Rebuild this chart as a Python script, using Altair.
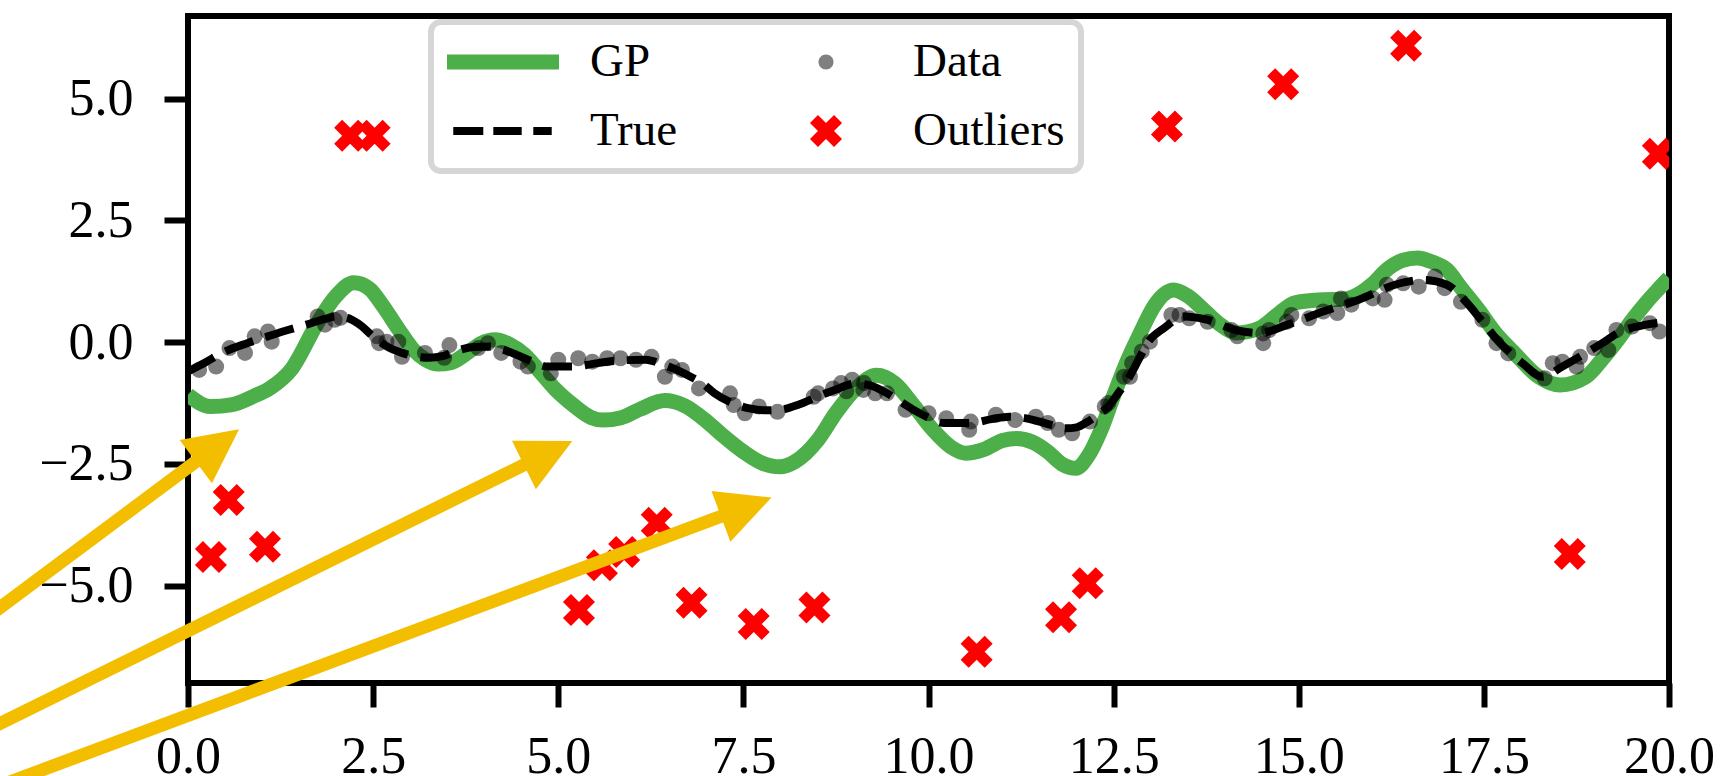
import math
import altair as alt
import pandas as pd

# ---------------- data ----------------
gp_x = [0.0, 0.3, 0.6, 0.9, 1.1, 1.4, 1.75, 2.0, 2.24, 2.45, 2.63, 2.85, 3.04, 3.2, 3.38, 3.55, 3.77, 3.95,
        4.15, 4.35, 4.54, 4.75, 4.95, 5.21, 5.45, 5.6, 5.85, 6.1, 6.44, 6.7, 7.0, 7.21, 7.5, 7.75, 7.99, 8.2,
        8.51, 8.75, 9.02, 9.3, 9.55, 9.8, 10.06, 10.3, 10.5, 10.75, 11.0, 11.19, 11.4, 11.61, 11.8, 11.99,
        12.15, 12.33, 12.5, 12.68, 12.86, 13.05, 13.31, 13.5, 13.72, 13.95, 14.15, 14.47, 14.7, 14.95, 15.33,
        15.6, 15.8, 16.0, 16.19, 16.4, 16.6, 16.8, 17.0, 17.2, 17.43, 17.65, 17.91, 18.24, 18.53, 18.88, 19.1,
        19.31, 19.5, 19.69, 19.85, 20.0]
gp_y = [-1.08, -1.32, -1.28, -1.1, -0.95, -0.55, 0.4, 0.95, 1.22, 1.1, 0.75, 0.25, -0.15, -0.35, -0.45, -0.42,
        -0.22, -0.03, 0.05, -0.05, -0.25, -0.6, -0.95, -1.3, -1.55, -1.6, -1.55, -1.38, -1.2, -1.3, -1.62, -1.9,
        -2.25, -2.48, -2.56, -2.45, -2.0, -1.45, -0.95, -0.68, -0.85, -1.3, -1.8, -2.15, -2.28, -2.2, -2.02,
        -1.98, -2.05, -2.25, -2.5, -2.59, -2.35, -1.8, -1.1, -0.4, 0.19, 0.75, 1.07, 0.95, 0.66, 0.35, 0.19,
        0.29, 0.55, 0.81, 0.87, 0.88, 0.98, 1.2, 1.49, 1.68, 1.73, 1.65, 1.49, 1.1, 0.66, 0.2, -0.22, -0.71,
        -0.88, -0.71, -0.35, 0.05, 0.45, 0.81, 1.08, 1.32]

true_x = [0.0, 0.25, 0.46, 0.8, 1.08, 1.35, 1.6, 1.85, 2.01, 2.15, 2.3, 2.53, 2.7, 2.89, 3.25, 3.45, 3.66, 3.85,
          4.08, 4.25, 4.44, 4.65, 4.85, 5.21, 5.45, 5.66, 5.9, 6.18, 6.4, 6.6, 6.8, 6.96, 7.11, 7.35, 7.58, 7.8,
          7.99, 8.25, 8.5, 8.75, 9.02, 9.2, 9.44, 9.62, 9.8, 10.0, 10.21, 10.57, 10.85, 11.09, 11.3, 11.5, 11.7,
          11.86, 12.0, 12.12, 12.28, 12.43, 12.56, 12.69, 12.83, 12.96, 13.18, 13.45, 13.77, 14.15, 14.47,
          14.85, 15.33, 15.81, 16.3, 16.68, 17.0, 17.27, 17.45, 17.64, 18.02, 18.29, 18.56, 18.88, 19.1, 19.31,
          19.69, 20.0]
true_y = [-0.6, -0.4, -0.22, -0.02, 0.12, 0.25, 0.36, 0.48, 0.53, 0.5, 0.38, 0.08, -0.1, -0.22, -0.32, -0.28,
          -0.16, -0.1, -0.09, -0.15, -0.26, -0.4, -0.5, -0.5, -0.45, -0.4, -0.37, -0.36, -0.45, -0.57, -0.72,
          -0.86, -1.05, -1.25, -1.36, -1.4, -1.39, -1.28, -1.12, -0.97, -0.85, -0.88, -1.05, -1.22, -1.39, -1.55,
          -1.66, -1.66, -1.58, -1.53, -1.56, -1.63, -1.72, -1.77, -1.75, -1.66, -1.5, -1.32, -1.05, -0.77, -0.38,
          -0.01, 0.29, 0.53, 0.46, 0.25, 0.19, 0.36, 0.63, 0.87, 1.18, 1.28, 1.18, 0.81, 0.48, 0.12, -0.43, -0.71,
          -0.5, -0.22, -0.02, 0.19, 0.36, 0.42]

obs_x = [0.15, 0.38, 0.56, 0.77, 0.9, 1.08, 1.13, 1.75, 1.85, 1.98, 2.06, 2.55, 2.58, 2.68, 2.84, 2.89, 3.2,
         3.46, 3.53, 3.92, 4.05, 4.23, 4.49, 4.59, 4.9, 5.0, 5.27, 5.46, 5.66, 5.84, 6.05, 6.26, 6.44, 6.54,
         6.67, 6.9, 7.32, 7.37, 7.52, 7.71, 7.96, 8.45, 8.51, 8.71, 8.82, 8.89, 8.97, 9.12, 9.13, 9.28, 9.44,
         9.69, 10.0, 10.24, 10.55, 10.57, 10.91, 11.17, 11.45, 11.61, 11.76, 11.94, 12.18, 12.38, 12.43, 12.64,
         12.72, 12.75, 12.88, 12.99, 13.28, 13.39, 13.52, 13.77, 14.09, 14.17, 14.52, 14.52, 14.6, 14.84, 14.9,
         15.14, 15.33, 15.52, 15.57, 15.71, 16.0, 16.16, 16.19, 16.41, 16.62, 16.84, 16.97, 17.19, 17.48,
         17.67, 17.83, 18.32, 18.43, 18.56, 18.75, 18.8, 18.99, 19.18, 19.29, 19.5, 19.74, 19.87]
obs_y = [-0.57, -0.5, -0.12, -0.22, 0.12, 0.22, 0.01, 0.53, 0.36, 0.46, 0.5, 0.12, -0.02, 0.01, 0.01, -0.3,
         -0.22, -0.32, -0.06, -0.12, -0.02, -0.22, -0.4, -0.5, -0.64, -0.36, -0.33, -0.4, -0.33, -0.33, -0.36,
         -0.3, -0.71, -0.5, -0.57, -0.95, -1.05, -1.29, -1.46, -1.32, -1.43, -1.12, -1.05, -0.95, -0.84, -1.01,
         -0.77, -0.98, -0.84, -1.05, -1.05, -1.39, -1.46, -1.56, -1.8, -1.63, -1.49, -1.6, -1.53, -1.66, -1.8,
         -1.87, -1.63, -1.32, -1.25, -0.71, -0.71, -0.43, -0.19, 0.01, 0.56, 0.56, 0.49, 0.42, 0.25, 0.12, 0.18,
         -0.02, 0.25, 0.42, 0.56, 0.49, 0.63, 0.6, 0.9, 0.77, 0.9, 0.87, 1.18, 1.21, 1.14, 1.35, 1.11, 0.83,
         0.46, -0.02, -0.23, -0.74, -0.43, -0.4, -0.5, -0.3, -0.12, -0.16, 0.25, 0.32, 0.39, 0.22]

outlier_x = [0.31, 0.55, 1.04, 2.19, 2.52, 5.28, 5.59, 5.89, 6.33, 6.80, 7.64, 8.46, 10.65, 11.79, 12.15,
             13.22, 14.79, 16.45, 18.66, 19.85]
outlier_y = [-4.41, -3.24, -4.2, 4.24, 4.24, -5.5, -4.58, -4.31, -3.71, -5.35, -5.79, -5.45, -6.36, -5.65,
             -4.95, 4.43, 5.30, 6.09, -4.35, 3.87]

# annotation arrows (tail -> tip, data units)
arrow_tail_x = [-4.16, -4.16, -4.16]
arrow_tail_y = [-7.29, -9.05, -10.03]
arrow_tip_x = [0.69, 5.19, 7.88]
arrow_tip_y = [-1.79, -2.03, -3.19]

# legend entries, in column-major order (col 1: GP, True; col 2: Data, Outliers)
series_names = ["GP", "True", "Data", "Outliers"]
series_colors = ["#4daf4a", "black", "#808080", "red"]
x_ticks = [0, 2.5, 5, 7.5, 10, 12.5, 15, 17.5, 20]
y_ticks = [-5, -2.5, 0, 2.5, 5]

# ---------------- layout / style ----------------
W, H = 1481, 667
X_DOM = [0, 20]
Y_DOM = [-7.0, 6.7]
SERIF = "Liberation Serif"
YELLOW = "#f3be00"

# legend / marker shapes (unit square -1..1), same order as series_names
shape_paths = [
    "M-1,-0.134L1,-0.134L1,0.134L-1,0.134Z",
    "M-0.888,-0.071L-0.352,-0.071L-0.352,0.071L-0.888,0.071Z"
    "M-0.173,-0.071L0.334,-0.071L0.334,0.071L-0.173,0.071Z"
    "M0.541,-0.071L0.870,-0.071L0.870,0.071L0.541,0.071Z",
    "M-0.134,0A0.134,0.134,0,1,0,0.134,0A0.134,0.134,0,1,0,-0.134,0Z",
    "M0.143,-0.286L0.286,-0.143L0.143,0L0.286,0.143L0.143,0.286L0,0.143L-0.143,0.286"
    "L-0.286,0.143L-0.143,0L-0.286,-0.143L-0.143,-0.286L0,-0.143Z",
]

xs = alt.Scale(domain=X_DOM, zero=False, nice=False)
ys = alt.Scale(domain=Y_DOM, zero=False, nice=False)
xaxis = alt.Axis(values=x_ticks, format=".1f", title=None, labelFlush=False, labelPadding=24)
yaxis = alt.Axis(values=y_ticks, format=".1f", title=None, labelPadding=31)

gp_df = pd.DataFrame({"x": gp_x, "y": gp_y})
true_df = pd.DataFrame({"x": true_x, "y": true_y})
obs_df = pd.DataFrame({"x": obs_x, "y": obs_y})
out_df = pd.DataFrame({"x": outlier_x, "y": outlier_y, "series": "Outliers"})

# arrows: shaft end and head angle from the screen direction
sx = W / (X_DOM[1] - X_DOM[0])
sy = H / (Y_DOM[1] - Y_DOM[0])
rows = []
for tx, ty, hx, hy in zip(arrow_tail_x, arrow_tail_y, arrow_tip_x, arrow_tip_y):
    a = math.atan2((hy - ty) * sy, (hx - tx) * sx)
    rows.append({
        "x": tx, "y": ty,
        "x2": hx - 27 * math.cos(a) / sx, "y2": hy - 27 * math.sin(a) / sy,
        "tipx": hx, "tipy": hy,
        "angle": (360 - math.degrees(a)) % 360,
    })
arr_df = pd.DataFrame(rows)

X = alt.X("x:Q", scale=xs, axis=xaxis)
Y = alt.Y("y:Q", scale=ys, axis=yaxis)

legend = alt.Legend(title=None, orient="none", legendX=243, legendY=6, columns=2,
                    columnPadding=92, rowPadding=21, clipHeight=48, symbolSize=12544,
                    symbolStrokeWidth=0, symbolOffset=0, labelOffset=31, labelFont=SERIF,
                    labelFontSize=47, labelColor="black", labelLimit=500, padding=16,
                    strokeColor="#d6d6d6", fillColor="white", cornerRadius=10)

gp_line = alt.Chart(gp_df).mark_line(
    color="#4daf4a", strokeWidth=15, interpolate="monotone", clip=True
).encode(x=X, y=Y)

true_line = alt.Chart(true_df).mark_line(
    color="black", strokeWidth=8, strokeDash=[29.6, 12.8], strokeCap="butt",
    interpolate="monotone", clip=True
).encode(x=X, y=Y)

points = alt.Chart(obs_df).mark_circle(
    color="black", opacity=0.5, size=256, clip=True
).encode(x=X, y=Y)

outliers = alt.Chart(out_df).mark_point(
    filled=True, opacity=1, size=12544, strokeWidth=0, clip=True
).encode(
    x=X, y=Y,
    color=alt.Color("series:N", scale=alt.Scale(domain=series_names, range=series_colors), legend=legend),
    shape=alt.Shape("series:N", scale=alt.Scale(domain=series_names, range=shape_paths), legend=legend),
)

shafts = alt.Chart(arr_df).mark_rule(
    color=YELLOW, strokeWidth=13, strokeCap="butt", clip=False
).encode(x=X, y=Y, x2="x2:Q", y2="y2:Q")

heads = alt.Chart(arr_df).mark_point(
    shape="M0,0L-2,-1L-2,1Z", filled=True, opacity=1, size=2916, color=YELLOW,
    strokeWidth=0, clip=False
).encode(x=alt.X("tipx:Q", scale=xs, axis=xaxis), y=alt.Y("tipy:Q", scale=ys, axis=yaxis),
         angle=alt.Angle("angle:Q", scale=None))

chart = alt.layer(gp_line, true_line, points, outliers, shafts, heads).properties(
    width=W, height=H,
    autosize=alt.AutoSizeParams(type="none"),
    padding={"left": 188, "top": 16, "right": 56, "bottom": 93},
    background="white",
).configure_view(
    stroke="black", strokeWidth=6
).configure_axis(
    labelFont=SERIF, labelFontSize=52, labelColor="black", tickColor="black",
    tickWidth=6, tickSize=24, domain=False, grid=False
).configure_legend(
    strokeWidth=6
)

chart.save("out.html", embed_options={"renderer": "svg", "actions": False})
